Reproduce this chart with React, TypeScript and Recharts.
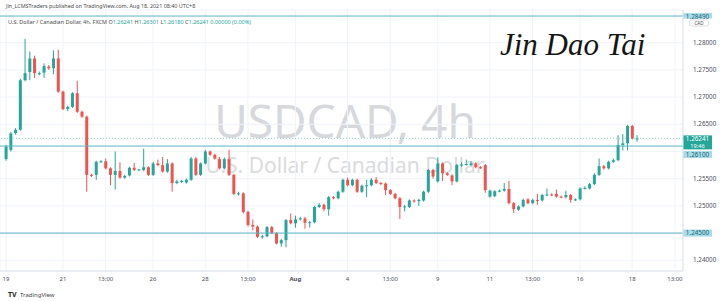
import { ComposedChart, Bar, XAxis, YAxis, CartesianGrid, ReferenceLine } from 'recharts';

// 4h candles, USDCAD, Jul 19 -> Aug 18 2021
const openPrices = [
  1.2586, 1.2603, 1.2634, 1.2640, 1.2731, 1.2746, 1.2771, 1.2743, 1.2745, 1.2756,
  1.2753, 1.2771, 1.2710, 1.2678, 1.2682, 1.2707, 1.2673, 1.2664, 1.2557, 1.2557,
  1.2581, 1.2582, 1.2569, 1.2557, 1.2564, 1.2552, 1.2556, 1.2570, 1.2566, 1.2566,
  1.2571, 1.2557, 1.2578, 1.2575, 1.2563, 1.2578, 1.2542, 1.2544, 1.2543, 1.2548,
  1.2587, 1.2557, 1.2578, 1.2600, 1.2594, 1.2586, 1.2569, 1.2586, 1.2557, 1.2522,
  1.2523, 1.2489, 1.2465, 1.2462, 1.2443, 1.2444, 1.2461, 1.2450, 1.2431, 1.2437,
  1.2474, 1.2468, 1.2475, 1.2477, 1.2469, 1.2470, 1.2498, 1.2502, 1.2494, 1.2516,
  1.2514, 1.2526, 1.2548, 1.2538, 1.2548, 1.2526, 1.2537, 1.2538, 1.2548, 1.2542,
  1.2541, 1.2529, 1.2522, 1.2514, 1.2498, 1.2498, 1.2510, 1.2509, 1.2510, 1.2526,
  1.2566, 1.2545, 1.2578, 1.2560, 1.2556, 1.2545, 1.2575, 1.2576, 1.2575, 1.2578,
  1.2571, 1.2575, 1.2517, 1.2518, 1.2527, 1.2528, 1.2531, 1.2505, 1.2493, 1.2499,
  1.2512, 1.2505, 1.2511, 1.2510, 1.2520, 1.2521, 1.2522, 1.2517, 1.2516, 1.2520,
  1.2511, 1.2512, 1.2532, 1.2532, 1.2540, 1.2557, 1.2573, 1.2569, 1.2581, 1.2584,
  1.2612, 1.2615, 1.2647, 1.26241,
];
const highPrices = [
  1.2612, 1.2636, 1.2643, 1.2734, 1.2807, 1.2784, 1.2776, 1.2747, 1.2762, 1.2759,
  1.2786, 1.2787, 1.2712, 1.2684, 1.2709, 1.2730, 1.2675, 1.2666, 1.2559, 1.2583,
  1.2584, 1.2587, 1.2571, 1.2600, 1.2580, 1.2557, 1.2572, 1.2579, 1.2568, 1.2605,
  1.2573, 1.2581, 1.2585, 1.2590, 1.2586, 1.2580, 1.2548, 1.2548, 1.2550, 1.2590,
  1.2590, 1.2580, 1.2603, 1.2602, 1.2596, 1.2590, 1.2589, 1.2603, 1.2559, 1.2526,
  1.2525, 1.2491, 1.2475, 1.2464, 1.2447, 1.2463, 1.2463, 1.2452, 1.2439, 1.2476,
  1.2486, 1.2482, 1.2480, 1.2480, 1.2472, 1.2500, 1.2505, 1.2504, 1.2518, 1.2518,
  1.2528, 1.2550, 1.2552, 1.2550, 1.2550, 1.2539, 1.2548, 1.2551, 1.2553, 1.2544,
  1.2543, 1.2531, 1.2524, 1.2516, 1.2502, 1.2512, 1.2512, 1.2513, 1.2528, 1.2568,
  1.2568, 1.2589, 1.2580, 1.2562, 1.2558, 1.2577, 1.2580, 1.2585, 1.2582, 1.2580,
  1.2573, 1.2577, 1.2530, 1.2529, 1.2530, 1.2542, 1.2546, 1.2507, 1.2501, 1.2513,
  1.2514, 1.2513, 1.2522, 1.2522, 1.2532, 1.2523, 1.2530, 1.2519, 1.2528, 1.2522,
  1.2514, 1.2534, 1.2536, 1.2542, 1.2560, 1.2587, 1.2575, 1.2583, 1.2587, 1.2630,
  1.2632, 1.2649, 1.2649, 1.26301,
];
const lowPrices = [
  1.2583, 1.2600, 1.2631, 1.2638, 1.2729, 1.2731, 1.2735, 1.2740, 1.2735, 1.2750,
  1.2742, 1.2708, 1.2676, 1.2674, 1.2680, 1.2671, 1.2662, 1.2526, 1.2553, 1.2548,
  1.2579, 1.2567, 1.2538, 1.2530, 1.2550, 1.2550, 1.2554, 1.2564, 1.2564, 1.2564,
  1.2555, 1.2555, 1.2573, 1.2561, 1.2561, 1.2526, 1.2540, 1.2542, 1.2541, 1.2546,
  1.2555, 1.2555, 1.2576, 1.2592, 1.2585, 1.2567, 1.2567, 1.2555, 1.2520, 1.2519,
  1.2486, 1.2462, 1.2455, 1.2441, 1.2440, 1.2442, 1.2448, 1.2429, 1.2425, 1.2424,
  1.2466, 1.2460, 1.2473, 1.2458, 1.2460, 1.2468, 1.2496, 1.2490, 1.2482, 1.2512,
  1.2512, 1.2524, 1.2536, 1.2536, 1.2524, 1.2524, 1.2516, 1.2536, 1.2540, 1.2538,
  1.2520, 1.2520, 1.2512, 1.2476, 1.2490, 1.2496, 1.2506, 1.2500, 1.2508, 1.2524,
  1.2550, 1.2543, 1.2546, 1.2555, 1.2538, 1.2543, 1.2572, 1.2574, 1.2573, 1.2569,
  1.2568, 1.2524, 1.2515, 1.2516, 1.2525, 1.2526, 1.2503, 1.2487, 1.2491, 1.2497,
  1.2503, 1.2503, 1.2502, 1.2508, 1.2518, 1.2518, 1.2515, 1.2514, 1.2514, 1.2506,
  1.2509, 1.2510, 1.2530, 1.2530, 1.2538, 1.2555, 1.2567, 1.2567, 1.2579, 1.2582,
  1.2602, 1.2602, 1.2622, 1.26180,
];
const closePrices = [
  1.2609, 1.2633, 1.2640, 1.2731, 1.2744, 1.2771, 1.2744, 1.2744, 1.2757, 1.2753,
  1.2771, 1.2710, 1.2678, 1.2682, 1.2707, 1.2673, 1.2664, 1.2557, 1.2556, 1.2581,
  1.2582, 1.2569, 1.2557, 1.2564, 1.2552, 1.2555, 1.2570, 1.2566, 1.2567, 1.2571,
  1.2557, 1.2578, 1.2575, 1.2563, 1.2578, 1.2542, 1.2545, 1.2546, 1.2548, 1.2587,
  1.2557, 1.2578, 1.2600, 1.2594, 1.2587, 1.2569, 1.2586, 1.2557, 1.2522, 1.2523,
  1.2489, 1.2465, 1.2462, 1.2443, 1.2444, 1.2461, 1.2450, 1.2431, 1.2437, 1.2474,
  1.2468, 1.2475, 1.2477, 1.2469, 1.2470, 1.2498, 1.2502, 1.2494, 1.2516, 1.2514,
  1.2526, 1.2548, 1.2538, 1.2548, 1.2526, 1.2537, 1.2538, 1.2548, 1.2542, 1.2541,
  1.2529, 1.2522, 1.2514, 1.2498, 1.2499, 1.2510, 1.2509, 1.2511, 1.2526, 1.2566,
  1.2554, 1.2578, 1.2560, 1.2557, 1.2545, 1.2575, 1.2576, 1.2577, 1.2578, 1.2571,
  1.2570, 1.2529, 1.2528, 1.2527, 1.2528, 1.2531, 1.2505, 1.2494, 1.2499, 1.2511,
  1.2505, 1.2511, 1.2510, 1.2520, 1.2521, 1.2520, 1.2517, 1.2516, 1.2520, 1.2511,
  1.2512, 1.2532, 1.2533, 1.2540, 1.2557, 1.2573, 1.2569, 1.2581, 1.2584, 1.2612,
  1.2615, 1.2647, 1.2624, 1.26241,
];

// empty slots to the right of the last candle
const futureSlots = 9;

// x axis labels, keyed by candle number
const tickIndex = [1, 13, 22, 32, 43, 52, 62, 73, 82, 92, 103, 112, 122, 133, 142];
const tickText = ['19', '21', '13:00', '26', '28', '13:00', 'Aug', '4', '13:00', '9', '11', '13:00', '16', '18', '13:00'];

const priceTicks = [1.24, 1.245, 1.25, 1.255, 1.26, 1.265, 1.27, 1.275, 1.28];
const hiddenPriceLabels = [1.26, 1.245];

const levelTop = 1.2849;
const levelMid = 1.261;
const levelLow = 1.245;
const lastPrice = 1.26241;

const UP = '#26a69a';
const DOWN = '#ef5350';
const LEVEL = '#5bb5c5';
const FONT = '"Noto Sans", sans-serif';

const rows: any[] = [
  ...openPrices.map((o, k) => ({
    i: k + 1,
    open: o,
    high: highPrices[k],
    low: lowPrices[k],
    close: closePrices[k],
  })),
  ...Array.from({ length: futureSlots }, (_, k) => ({ i: openPrices.length + k + 1 })),
];

function Candle(props: any) {
  const { x, y, width, height, payload } = props;
  if (payload == null || payload.open == null) return null;
  const top = Math.min(y, y + height);
  const span = Math.abs(height);
  const perUnit = span / (payload.high - payload.low);
  const hi = Math.max(payload.open, payload.close);
  const lo = Math.min(payload.open, payload.close);
  const bodyTop = top + (payload.high - hi) * perUnit;
  const bodyH = Math.max(1, (hi - lo) * perUnit);
  const cx = x + width / 2;
  const color = payload.close >= payload.open ? UP : DOWN;
  return (
    <g>
      <line x1={cx} x2={cx} y1={top} y2={top + span} stroke={color} strokeWidth={1} />
      <rect x={x} y={bodyTop} width={width} height={bodyH} fill={color} />
    </g>
  );
}

function DayTick(props: any) {
  const { x, y, payload } = props;
  const k = tickIndex.indexOf(payload.value);
  const label = k >= 0 ? tickText[k] : '';
  return (
    <text x={x} y={y + 1.5} textAnchor="middle" fontSize={6} fontFamily={FONT}
      fill="#4c4f5a" fontWeight={label === 'Aug' ? 700 : 400}>
      {label}
    </text>
  );
}

function PriceTick(props: any) {
  const { x, y, payload } = props;
  if (hiddenPriceLabels.includes(payload.value)) return null;
  return (
    <text x={x + 2} y={y + 2.2} textAnchor="start" fontSize={6.3} fontFamily={FONT} fill="#4c4f5a">
      {payload.value.toFixed(5)}
    </text>
  );
}

function PriceTag({ viewBox, text, sub, fill, color, shift = 0, h = 7 }: any) {
  if (!viewBox) return null;
  const x = viewBox.x + viewBox.width;
  const y = viewBox.y + shift;
  const boxH = sub ? 14 : h;
  return (
    <g>
      <rect x={x} y={y - 3.5} width={29} height={boxH} fill={fill} />
      <text x={x + 14.5} y={y + 2.2} textAnchor="middle" fontSize={6.3} fontFamily={FONT} fill={color}>
        {text}
      </text>
      {sub && (
        <text x={x + 14.5} y={y + 8.8} textAnchor="middle" fontSize={5.6} fontFamily={FONT} fill={color}>
          {sub}
        </text>
      )}
    </g>
  );
}

export default function App() {
  return (
    <div style={{ position: 'absolute', left: 0, top: 0, width: 720, height: 301, background: '#fff', overflow: 'hidden' }}>
      <svg width={720} height={301} style={{ position: 'absolute', left: 0, top: 0 }}>
        <text x={345} y={138} textAnchor="middle" fontSize={46} fontFamily={FONT} fill="#d7d8db">
          USDCAD, 4h
        </text>
        <text x={345} y={173} textAnchor="middle" fontSize={21} fontFamily={FONT} fill="#dadbdd">
          U.S. Dollar / Canadian Dollar
        </text>
      </svg>
      <div style={{ position: 'absolute', left: 0, top: 0 }}>
        <ComposedChart width={720} height={301} data={rows}
          margin={{ top: 10, right: 0, bottom: 14, left: 0 }} barCategoryGap={0}>
          <CartesianGrid stroke="#f0f3fa" />
          <XAxis dataKey="i" type="category" ticks={tickIndex} interval={0} tick={<DayTick />}
            tickLine={false} axisLine={{ stroke: '#e0e3eb' }} height={16} padding={{ left: 3.6, right: 1 }} />
          <YAxis orientation="right" width={37} domain={[1.23803, 1.28601]} allowDataOverflow
            ticks={priceTicks} interval={0} tick={<PriceTick />} tickLine={false} axisLine={{ stroke: '#e0e3eb' }} />
          <ReferenceLine y={lastPrice} stroke={UP} strokeOpacity={0.45} strokeDasharray="1 2" />
          <ReferenceLine y={levelTop} stroke={LEVEL} strokeWidth={1}
            label={(p: any) => <PriceTag viewBox={p.viewBox} text="1.28490" fill="#a9dbe6" color="#17677a" shift={0.5} h={5.5} />} />
          <ReferenceLine y={levelMid} stroke={LEVEL} strokeWidth={1}
            label={(p: any) => <PriceTag viewBox={p.viewBox} text="1.26100" fill="#a9dbe6" color="#17677a" shift={8.5} />} />
          <ReferenceLine y={levelLow} stroke={LEVEL} strokeWidth={1}
            label={(p: any) => <PriceTag viewBox={p.viewBox} text="1.24500" fill="#a9dbe6" color="#17677a" />} />
          <ReferenceLine y={lastPrice} stroke="none"
            label={(p: any) => <PriceTag viewBox={p.viewBox} text="1.26241" sub="19:46" fill={UP} color="#ffffff" shift={0.5} />} />
          <Bar dataKey={(d: any) => (d.open == null ? null : [d.low, d.high])} shape={Candle}
            barSize={3} isAnimationActive={false} />
        </ComposedChart>
      </div>
      <svg width={720} height={301} style={{ position: 'absolute', left: 0, top: 0, pointerEvents: 'none' }}>
        <text x={6} y={8} fontSize={5.4} fontFamily={FONT} fill="#4a4a4a">
          Jin_LCMSTraders published on TradingView.com, Aug 18, 2021 08:40 UTC+8
        </text>
        <text x={8} y={24} fontSize={5.5} fontFamily={FONT} fill="#4a4a4a">
          U.S. Dollar / Canadian Dollar, 4h, FXCM{'  '}O<tspan fill={UP}>1.26241</tspan>{'  '}H<tspan fill={UP}>1.26301</tspan>
          {'  '}L<tspan fill={UP}>1.26180</tspan>{'  '}C<tspan fill={UP}>1.26241</tspan>{'  '}
          <tspan fill={UP}>0.00000 (0.00%)</tspan>
        </text>
        <rect x={689.5} y={20} width={19} height={6} rx={2} fill="#ffffff" stroke="#c9cbd1" strokeWidth={0.6} />
        <text x={699} y={24.6} textAnchor="middle" fontSize={4.6} fontFamily={FONT} fill="#4a4a4a">CAD</text>
        <text x={500} y={55} fontSize={31} fontFamily='"Liberation Serif", serif' fontStyle="italic" fill="#151515">
          Jin Dao Tai
        </text>
        <text x={8} y={296.5} fontSize={7} fontWeight={700} fontFamily={FONT} fill="#222">TV</text>
        <text x={20} y={296.5} fontSize={6} fontFamily={FONT} fill="#444">TradingView</text>
      </svg>
    </div>
  );
}
